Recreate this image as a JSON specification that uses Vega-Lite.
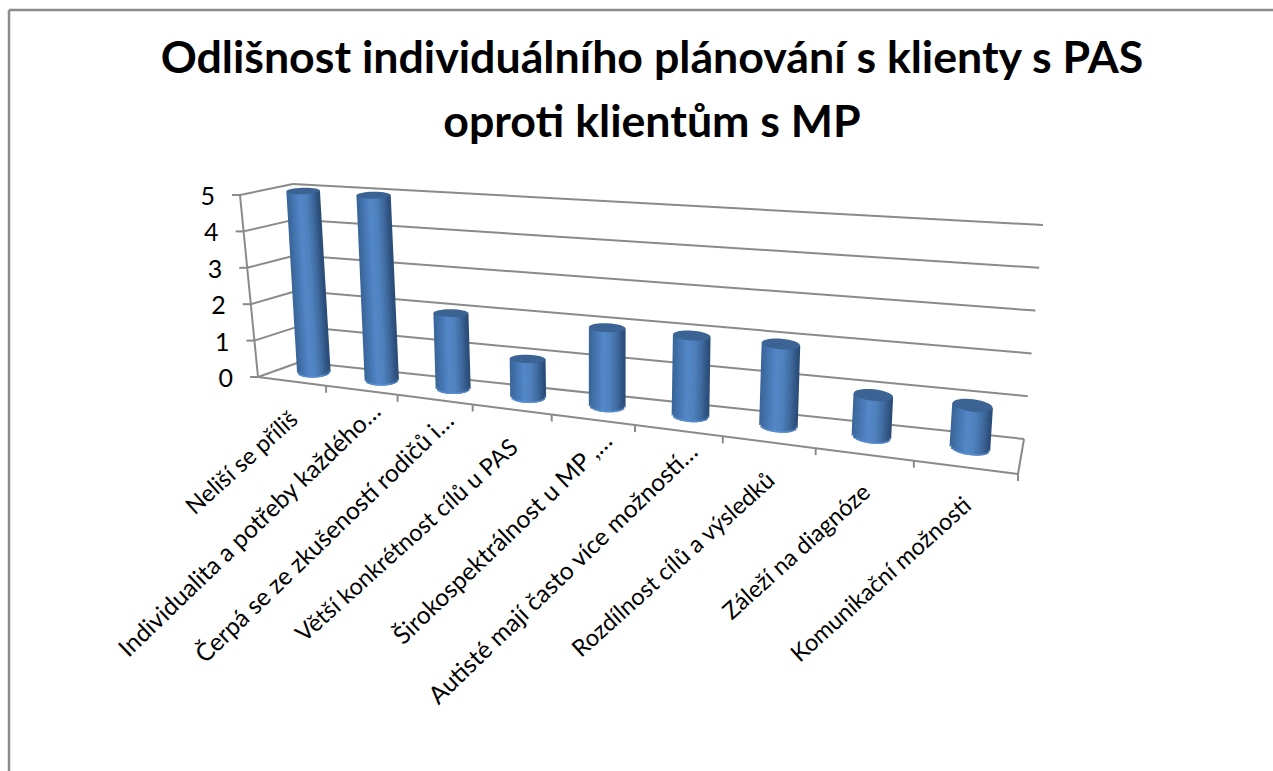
{
  "$schema": "https://vega.github.io/schema/vega-lite/v6.json",
  "width": 1264,
  "height": 761,
  "autosize": "none",
  "padding": {"left": 9, "top": 10, "right": 0, "bottom": 0},
  "background": "white",
  "title": {
    "text": ["Odlišnost individuálního plánování s klienty s PAS", "oproti klientům s MP"],
    "font": "Lato", "fontSize": 44.7, "fontWeight": "bold", "color": "black",
    "anchor": "middle", "frame": "group", "baseline": "top", "lineHeight": 64, "dx": 11, "dy": 138, "offset": 0
  },
  "config": {
    "view": {"stroke": null}
  },
  "datasets": {
    "levels": [{"value": 0}, {"value": 1}, {"value": 2}, {"value": 3}, {"value": 4}, {"value": 5}],
    "answers": [
      {"category": "Neliší se příliš", "value": 5},
      {"category": "Individualita a potřeby každého…", "value": 5},
      {"category": "Čerpá se ze zkušeností rodičů i…", "value": 2},
      {"category": "Větší konkrétnost cílů u PAS", "value": 1},
      {"category": "Širokospektrálnost u MP ,…", "value": 2},
      {"category": "Autisté mají často více možností…", "value": 2},
      {"category": "Rozdílnost cílů a výsledků", "value": 2},
      {"category": "Záleží na diagnóze", "value": 1},
      {"category": "Komunikační možnosti", "value": 1}
    ]
  },
  "layer": [
    {
      "data": {"name": "levels"},
      "transform": [
        {"calculate": "datum.value / 5", "as": "h"},
        {"calculate": "258 - 18 * datum.h", "as": "sideFrontX"},
        {"calculate": "377 - 182 * datum.h", "as": "sideFrontY"},
        {"calculate": "300 - 7 * datum.h", "as": "backLeftX"},
        {"calculate": "362 - 178 * datum.h", "as": "backLeftY"},
        {"calculate": "1024 + 19 * datum.h", "as": "backRightX"},
        {"calculate": "439 - 214 * datum.h", "as": "backRightY"},
        {"calculate": "datum.sideFrontX - 8", "as": "tickX"},
        {"calculate": "datum.sideFrontX - 25", "as": "labelX"},
        {"calculate": "datum.sideFrontY + 2", "as": "labelY"},
        {"calculate": "1018", "as": "floorCornerX"},
        {"calculate": "474", "as": "floorCornerY"}
      ],
      "layer": [
        {
          "description": "Top edge of the chart frame",
          "transform": [{"filter": "datum.value === 0"}],
          "mark": {"type": "rule", "color": "#8c8c8c", "strokeWidth": 2.5},
          "encoding": {
            "y": {"datum": 10, "type": "quantitative", "scale": {"domain": [10, 771], "range": [0, 761]}, "axis": null}
          }
        },
        {
          "description": "Left edge of the chart frame",
          "transform": [{"filter": "datum.value === 0"}],
          "mark": {"type": "rule", "color": "#8c8c8c", "strokeWidth": 2.5},
          "encoding": {
            "x": {"datum": 9, "type": "quantitative", "scale": {"domain": [9, 1273], "range": [0, 1264]}, "axis": null}
          }
        },
        {
          "description": "Gridlines across the side wall",
          "mark": {"type": "rule", "color": "#8a8a8a", "strokeWidth": 2},
          "encoding": {
            "x": {"field": "sideFrontX", "type": "quantitative", "scale": {"domain": [9, 1273], "range": [0, 1264]}, "axis": null},
            "y": {"field": "sideFrontY", "type": "quantitative", "scale": {"domain": [10, 771], "range": [0, 761]}, "axis": null},
            "x2": {"field": "backLeftX"},
            "y2": {"field": "backLeftY"}
          }
        },
        {
          "description": "Gridlines across the back wall",
          "mark": {"type": "rule", "color": "#8a8a8a", "strokeWidth": 2},
          "encoding": {
            "x": {"field": "backLeftX", "type": "quantitative", "scale": {"domain": [9, 1273], "range": [0, 1264]}, "axis": null},
            "y": {"field": "backLeftY", "type": "quantitative", "scale": {"domain": [10, 771], "range": [0, 761]}, "axis": null},
            "x2": {"field": "backRightX"},
            "y2": {"field": "backRightY"}
          }
        },
        {
          "description": "Value-axis ticks",
          "mark": {"type": "rule", "color": "#8a8a8a", "strokeWidth": 2},
          "encoding": {
            "x": {"field": "tickX", "type": "quantitative", "scale": {"domain": [9, 1273], "range": [0, 1264]}, "axis": null},
            "y": {"field": "sideFrontY", "type": "quantitative", "scale": {"domain": [10, 771], "range": [0, 761]}, "axis": null},
            "x2": {"field": "sideFrontX"}
          }
        },
        {
          "description": "Value-axis line on the front edge of the side wall",
          "mark": {"type": "line", "color": "#8a8a8a", "strokeWidth": 2},
          "encoding": {
            "x": {"field": "sideFrontX", "type": "quantitative", "scale": {"domain": [9, 1273], "range": [0, 1264]}, "axis": null},
            "y": {"field": "sideFrontY", "type": "quantitative", "scale": {"domain": [10, 771], "range": [0, 761]}, "axis": null},
            "order": {"field": "value"}
          }
        },
        {
          "description": "Right-hand edge of the floor",
          "transform": [{"filter": "datum.value === 0"}],
          "mark": {"type": "rule", "color": "#8a8a8a", "strokeWidth": 2},
          "encoding": {
            "x": {"field": "backRightX", "type": "quantitative", "scale": {"domain": [9, 1273], "range": [0, 1264]}, "axis": null},
            "y": {"field": "backRightY", "type": "quantitative", "scale": {"domain": [10, 771], "range": [0, 761]}, "axis": null},
            "x2": {"field": "floorCornerX"},
            "y2": {"field": "floorCornerY"}
          }
        },
        {
          "description": "Value-axis numbers",
          "mark": {"type": "text", "font": "Lato", "fontSize": 25, "align": "right", "baseline": "middle", "color": "black"},
          "encoding": {
            "x": {"field": "labelX", "type": "quantitative", "scale": {"domain": [9, 1273], "range": [0, 1264]}, "axis": null},
            "y": {"field": "labelY", "type": "quantitative", "scale": {"domain": [10, 771], "range": [0, 761]}, "axis": null},
            "text": {"field": "value", "type": "quantitative"}
          }
        }
      ]
    },
    {
      "data": {"name": "answers"},
      "transform": [
        {"window": [{"op": "row_number", "as": "idx"}]},
        {"calculate": "(datum.idx - 1) / 9", "as": "s0"},
        {"calculate": "datum.idx / 9", "as": "s1"},
        {"calculate": "(datum.idx - 0.5) / 9", "as": "sm"},
        {"calculate": "datum.s0 / (datum.s0 + 1.27 * (1 - datum.s0))", "as": "u0"},
        {"calculate": "datum.s1 / (datum.s1 + 1.27 * (1 - datum.s1))", "as": "u1"},
        {"calculate": "datum.sm / (datum.sm + 1.27 * (1 - datum.sm))", "as": "um"},
        {"calculate": "258 + 760 * datum.u0", "as": "edgeX0"},
        {"calculate": "377 + 97 * datum.u0", "as": "edgeY0"},
        {"calculate": "258 + 760 * datum.u1", "as": "edgeX1"},
        {"calculate": "377 + 97 * datum.u1", "as": "edgeY1"},
        {"calculate": "datum.edgeY1 + 7", "as": "tickEnd"},
        {"calculate": "258 + 760 * datum.um", "as": "frontX"},
        {"calculate": "377 + 97 * datum.um", "as": "frontY"},
        {"calculate": "test(/…$/, datum.category)", "as": "shortened"},
        {"calculate": "datum.frontX + (datum.shortened ? 16 : 3)", "as": "labelX"},
        {"calculate": "datum.frontY + (datum.shortened ? 18 : 35)", "as": "labelY"},
        {"calculate": "datum.frontX + 0.55 * (300 + 724 * datum.um - datum.frontX)", "as": "baseX"},
        {"calculate": "datum.frontY + 0.55 * (362 + 77 * datum.um - datum.frontY)", "as": "baseY"},
        {"calculate": "(240 + 789 * datum.um) + 0.55 * (53 - 39 * datum.um)", "as": "fullX"},
        {"calculate": "(195 + 53 * datum.um) + 0.55 * (-11 - 12 * datum.um)", "as": "fullY"},
        {"calculate": "datum.baseX + (datum.fullX - datum.baseX) * datum.value / 5", "as": "topX"},
        {"calculate": "datum.baseY + (datum.fullY - datum.baseY) * datum.value / 5", "as": "topY"},
        {"calculate": "33 + 8 * datum.um", "as": "barWidth"},
        {"calculate": "-2 + 10 * datum.um", "as": "tilt"},
        {"calculate": "datum.barWidth * datum.barWidth", "as": "capSize"},
        {"calculate": "(3 + 3.5 * datum.um) / (datum.barWidth / 2)", "as": "capRatio"},
        {"calculate": "cos(datum.tilt * PI / 180)", "as": "cosT"},
        {"calculate": "sin(datum.tilt * PI / 180)", "as": "sinT"},
        {"calculate": "'M' + (-datum.cosT) + ',' + (-datum.sinT) + 'A1,' + datum.capRatio + ' ' + datum.tilt + ' 1 1 ' + datum.cosT + ',' + datum.sinT + 'A1,' + datum.capRatio + ' ' + datum.tilt + ' 1 1 ' + (-datum.cosT) + ',' + (-datum.sinT) + 'Z'", "as": "capPath"}
      ],
      "layer": [
        {
          "description": "Front edge of the floor",
          "mark": {"type": "rule", "color": "#8a8a8a", "strokeWidth": 2},
          "encoding": {
            "x": {"field": "edgeX0", "type": "quantitative", "scale": {"domain": [9, 1273], "range": [0, 1264]}, "axis": null},
            "y": {"field": "edgeY0", "type": "quantitative", "scale": {"domain": [10, 771], "range": [0, 761]}, "axis": null},
            "x2": {"field": "edgeX1"},
            "y2": {"field": "edgeY1"}
          }
        },
        {
          "description": "Category ticks",
          "mark": {"type": "rule", "color": "#8a8a8a", "strokeWidth": 2},
          "encoding": {
            "x": {"field": "edgeX1", "type": "quantitative", "scale": {"domain": [9, 1273], "range": [0, 1264]}, "axis": null},
            "y": {"field": "edgeY1", "type": "quantitative", "scale": {"domain": [10, 771], "range": [0, 761]}, "axis": null},
            "y2": {"field": "tickEnd"}
          }
        },
        {
          "description": "Cylinder bodies, shaded by narrow strips around the circumference",
          "transform": [
            {"calculate": "[-1,-0.92,-0.84,-0.76,-0.68,-0.6,-0.52,-0.44,-0.36,-0.28,-0.2,-0.12,-0.04,0.04,0.12,0.2,0.28,0.36,0.44,0.52,0.6,0.68,0.76,0.84,0.92,1]", "as": "around"},
            {"flatten": ["around"]},
            {"calculate": "datum.around * (datum.barWidth - 2) / 2", "as": "off"},
            {"calculate": "datum.off * tan(datum.tilt * PI / 180)", "as": "skew"},
            {"calculate": "datum.baseX + datum.off", "as": "x0"},
            {"calculate": "datum.topX + datum.off", "as": "x1"},
            {"calculate": "datum.baseY + datum.skew + (5 + 1.5 * datum.um) * sqrt(1 - datum.around * datum.around)", "as": "y0"},
            {"calculate": "datum.topY + datum.skew", "as": "y1"},
            {"calculate": "datum.y0 - 1.5", "as": "rimTop"},
            {"calculate": "datum.x0 + (datum.x1 - datum.x0) * 1.5 / (datum.y0 - datum.y1)", "as": "rimX"}
          ],
          "layer": [
            {
              "mark": {"type": "rule", "strokeWidth": 2.2},
              "encoding": {
                "x": {"field": "x0", "type": "quantitative", "scale": {"domain": [9, 1273], "range": [0, 1264]}, "axis": null},
                "y": {"field": "y0", "type": "quantitative", "scale": {"domain": [10, 771], "range": [0, 761]}, "axis": null},
                "x2": {"field": "x1"},
                "y2": {"field": "y1"},
                "color": {
                  "field": "around", "type": "quantitative", "legend": null,
                  "scale": {"domain": [-1, -0.6, -0.2, 0.2, 0.6, 1], "range": ["#3a6699", "#4677b3", "#5487c8", "#4f81bd", "#3f6a9f", "#2b4d78"]}
                }
              }
            },
            {
              "description": "Lighter rim along the foot of each cylinder",
              "mark": {"type": "rule", "strokeWidth": 2.2, "color": "#5d93d8", "opacity": 0.55},
              "encoding": {
                "x": {"field": "x0", "type": "quantitative", "scale": {"domain": [9, 1273], "range": [0, 1264]}, "axis": null},
                "y": {"field": "y0", "type": "quantitative", "scale": {"domain": [10, 771], "range": [0, 761]}, "axis": null},
                "x2": {"field": "rimX"},
                "y2": {"field": "rimTop"}
              }
            }
          ]
        },
        {
          "description": "Cylinder top caps",
          "mark": {"type": "point", "filled": true, "opacity": 1, "color": "#3b6494"},
          "encoding": {
            "x": {"field": "topX", "type": "quantitative", "scale": {"domain": [9, 1273], "range": [0, 1264]}, "axis": null},
            "y": {"field": "topY", "type": "quantitative", "scale": {"domain": [10, 771], "range": [0, 761]}, "axis": null},
            "size": {"field": "capSize", "type": "quantitative", "scale": null},
            "shape": {"field": "capPath", "type": "nominal", "scale": null}
          }
        },
        {
          "description": "Slanted labels for the complete category names",
          "transform": [{"filter": "!datum.shortened"}],
          "mark": {"type": "text", "font": "Lato", "fontSize": 23.5, "angle": 318, "align": "right", "baseline": "middle", "color": "black"},
          "encoding": {
            "x": {"field": "labelX", "type": "quantitative", "scale": {"domain": [9, 1273], "range": [0, 1264]}, "axis": null},
            "y": {"field": "labelY", "type": "quantitative", "scale": {"domain": [10, 771], "range": [0, 761]}, "axis": null},
            "text": {"field": "category", "type": "nominal"}
          }
        },
        {
          "description": "Slanted labels for the shortened category names",
          "transform": [{"filter": "datum.shortened"}],
          "mark": {"type": "text", "font": "Lato", "fontSize": 24.5, "angle": 316, "align": "right", "baseline": "middle", "color": "black"},
          "encoding": {
            "x": {"field": "labelX", "type": "quantitative", "scale": {"domain": [9, 1273], "range": [0, 1264]}, "axis": null},
            "y": {"field": "labelY", "type": "quantitative", "scale": {"domain": [10, 771], "range": [0, 761]}, "axis": null},
            "text": {"field": "category", "type": "nominal"}
          }
        }
      ]
    }
  ]
}
